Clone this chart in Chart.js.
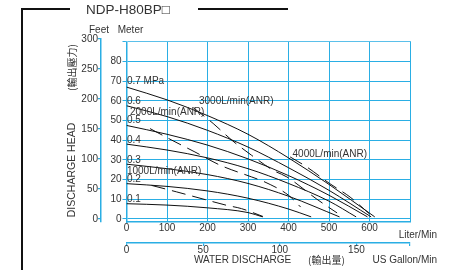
<!DOCTYPE html>
<html><head><meta charset="utf-8">
<script src="https://cdn.jsdelivr.net/npm/chart.js@4/dist/chart.umd.min.js"></script>
<style>html,body{margin:0;padding:0;background:#fff;}#wrap{position:relative;width:459px;height:270px;}</style>
</head><body><div id="wrap"><canvas id="c" width="459" height="270"></canvas></div>
<script>
// ---- tick values ----
const flowTicks = [0, 100, 200, 300, 400, 500, 600, 700];
const flowLabels = [0, 100, 200, 300, 400, 500, 600];
const gallonTicks = [0, 50, 100, 150];
const meterTicks = [0, 10, 20, 30, 40, 50, 60, 70, 80, 90];
const feetTicks = [0, 50, 100, 150, 200, 250, 300];

// ---- air pressure curves: [flow L/min, head m] ----
const mpa07 = [[0, 67], [100, 60.5], [200, 52.5], [300, 43], [400, 31], [500, 17.5], [613, 1]];
const mpa06 = [[0, 57.5], [100, 52], [200, 45], [300, 36.5], [400, 26], [500, 14.5], [604, 1]];
const mpa05 = [[0, 47.5], [100, 43], [200, 37.5], [300, 30.5], [400, 22], [500, 12], [595, 1]];
const mpa04 = [[0, 38], [100, 35], [200, 31], [300, 25.5], [400, 18], [500, 9], [567, 1]];
const mpa03 = [[0, 27.8], [100, 25.5], [200, 22.5], [300, 18], [400, 11.5], [526, 1]];
const mpa02 = [[0, 17.9], [100, 16.5], [200, 14.2], [300, 10.5], [400, 5], [456, 1]];
const mpa01 = [[0, 7.7], [100, 7], [200, 5.6], [300, 3.2], [336, 1]];

// ---- air consumption curves: [flow L/min, head m] ----
const air1000 = [[62, 17], [124, 13.7], [194, 9.8], [247, 6.9], [284, 5.2], [337, 1.2]];
const air2000 = [[58, 45.9], [112, 40], [169, 34], [231, 27.3], [309, 21.3], [342, 18.7], [400, 12], [430, 6]];
const air3000 = [[165, 56.5], [214, 48.5], [260, 40], [309, 32.3], [362, 24.7], [396, 21.3], [470, 10], [520, 3]];
const air4000 = [[404, 31.5], [445, 26.4], [502, 17.9], [552, 11.1], [576, 6.9], [600, 2.5]];

const pressureNames = ['0.7 MPa', '0.6', '0.5', '0.4', '0.3', '0.2', '0.1'];
const airNames = ['1000L/min(ANR)', '2000L/min(ANR)', '3000L/min(ANR)', '4000L/min(ANR)'];

const GRID = '#2aaee4';
const TXT = '#333333';
const FAM = '"Liberation Sans", Arial, Helvetica, sans-serif';
const CJK = '"Noto Sans CJK TC", "Noto Sans CJK JP", sans-serif';
const M_PER_FT = 0.3048;
const L_PER_GAL = 3.78541;

const toPts = a => a.map(p => ({x: p[0], y: p[1]}));
const solid = (arr) => ({data: toPts(arr), borderColor: '#111', borderWidth: 1, pointRadius: 0, fill: false, cubicInterpolationMode: 'monotone', xAxisID: 'x', yAxisID: 'm'});
const dashed = (arr) => Object.assign(solid(arr), {borderDash: [14, 7]});

// label anchors: [flow, head]
const pressureLabelAt = [[1, 70], [1, 60], [1, 50], [1, 40], [1, 30], [1, 20], [1, 10]];
const airLabelAt = [[1, 24.2], [8.5, 54.3], [179, 59.6], [410, 33]];

const annot = {
  id: 'annot',
  beforeDatasetsDraw(chart) {
    const ctx = chart.ctx, a = chart.chartArea, m = chart.scales.m;
    ctx.save();
    ctx.fillStyle = '#fff';
    ctx.fillRect(a.left - 1, a.top - 2, a.right - a.left + 3, m.getPixelForValue(90) - a.top + 1.4);
    ctx.restore();
  },
  afterDraw(chart) {
    const ctx = chart.ctx, x = chart.scales.x, m = chart.scales.m, f = chart.scales.f;
    ctx.save();
    ctx.fillStyle = TXT;
    ctx.textBaseline = 'middle';
    ctx.font = '10px ' + FAM;
    ctx.textAlign = 'left';
    pressureNames.forEach((t, i) => {
      ctx.fillText(t, x.getPixelForValue(pressureLabelAt[i][0]), m.getPixelForValue(pressureLabelAt[i][1]));
    });
    airNames.forEach((t, i) => {
      ctx.fillText(t, x.getPixelForValue(airLabelAt[i][0]), m.getPixelForValue(airLabelAt[i][1]));
    });
    // axis headers
    ctx.textAlign = 'center';
    ctx.fillText('Feet', f.right - 2, 30);
    ctx.fillText('Meter', m.right + 4, 30);
    // x axis titles
    ctx.textAlign = 'right';
    ctx.fillText('Liter/Min', x.right + 27, 235);
    ctx.fillText('US Gallon/Min', x.right + 27, 260);
    ctx.textAlign = 'left';
    ctx.fillText('WATER DISCHARGE', 194, 260);
    ctx.font = '10px ' + CJK;
    ctx.fillText('(輸出量)', 308, 260);
    // y titles
    ctx.save();
    ctx.translate(72, 170);
    ctx.rotate(-Math.PI / 2);
    ctx.textAlign = 'center';
    ctx.font = '10.5px ' + FAM;
    ctx.fillText('DISCHARGE HEAD', 0, 0);
    ctx.restore();
    ctx.save();
    ctx.translate(72, 67.5);
    ctx.rotate(-Math.PI / 2);
    ctx.textAlign = 'center';
    ctx.font = '10px ' + CJK;
    ctx.fillText('(輸出壓力)', 0, 0);
    ctx.restore();
    // title and frame
    ctx.font = '13.5px ' + FAM;
    ctx.textAlign = 'left';
    ctx.fillText('NDP-H80BP□', 86, 10);
    ctx.strokeStyle = '#111';
    ctx.lineWidth = 2;
    ctx.beginPath();
    ctx.moveTo(22, 270); ctx.lineTo(22, 9); ctx.lineTo(70, 9);
    ctx.moveTo(198, 9); ctx.lineTo(288, 9);
    ctx.stroke();
    ctx.restore();
  }
};

const tickFont = {family: FAM, size: 10};
new Chart(document.getElementById('c'), {
  type: 'line',
  data: {
    datasets: [mpa07, mpa06, mpa05, mpa04, mpa03, mpa02, mpa01].map(solid)
      .concat([air1000, air2000, air3000, air4000].map(dashed))
  },
  options: {
    responsive: false,
    animation: false,
    devicePixelRatio: 1,
    layout: {padding: {left: 61, right: 49, top: 39, bottom: 3}},
    plugins: {legend: {display: false}, tooltip: {enabled: false}, title: {display: false}},
    scales: {
      x: {
        type: 'linear', position: 'bottom', min: 0, max: 700, weight: 0,
        afterBuildTicks: s => { s.ticks = flowTicks.map(v => ({value: v})); },
        afterFit: s => { s.height = 21; },
        grid: {color: GRID, lineWidth: 1, drawTicks: false},
        border: {color: GRID, width: 1.5},
        ticks: {color: TXT, font: tickFont, padding: 0, maxRotation: 0, autoSkip: false,
          callback: v => flowLabels.includes(v) ? String(v) : ''}
      },
      g: {
        type: 'linear', position: 'bottom', min: 0, max: 700 / L_PER_GAL, weight: 1,
        afterBuildTicks: s => { s.ticks = gallonTicks.concat([700 / L_PER_GAL]).map(v => ({value: v})); },
        afterFit: s => { s.height = 24; },
        grid: {color: GRID, drawOnChartArea: false, tickLength: 3, lineWidth: 1.2},
        border: {color: GRID, width: 1.5},
        ticks: {color: TXT, font: tickFont, padding: -2, maxRotation: 0, autoSkip: false,
          callback: v => gallonTicks.includes(v) ? String(v) : ''}
      },
      m: {
        type: 'linear', position: 'left', min: -1.6, max: 300 * M_PER_FT, weight: 0,
        afterBuildTicks: s => { s.ticks = meterTicks.map(v => ({value: v})); },
        afterFit: s => { s.width = 25.5; },
        grid: {color: GRID, lineWidth: 1, tickLength: 4},
        border: {color: GRID, width: 1.5},
        ticks: {color: TXT, font: tickFont, padding: 1, autoSkip: false,
          callback: v => v === 90 ? '' : String(v)}
      },
      f: {
        type: 'linear', position: 'left', min: -1.6 / M_PER_FT, max: 300, weight: 1,
        afterBuildTicks: s => { s.ticks = feetTicks.map(v => ({value: v})); },
        afterFit: s => { s.width = 40; },
        grid: {color: GRID, drawOnChartArea: false, tickLength: 3, lineWidth: 1.2},
        border: {color: GRID, width: 1.5},
        ticks: {color: TXT, font: tickFont, padding: 0, autoSkip: false}
      }
    }
  },
  plugins: [annot]
});
</script>
</body></html>
